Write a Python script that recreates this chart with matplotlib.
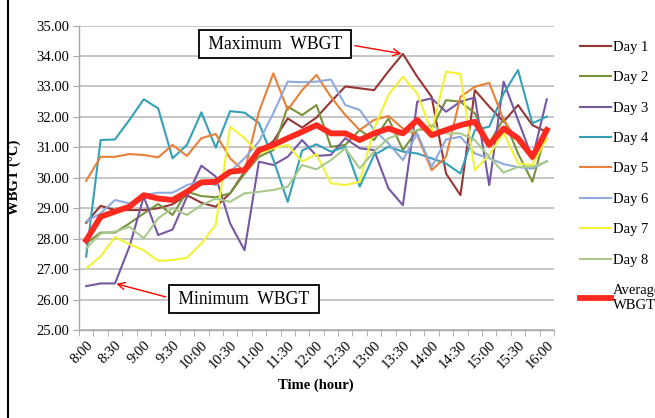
import numpy as np
import matplotlib
matplotlib.use('Agg')
import matplotlib.pyplot as plt
from matplotlib.lines import Line2D

plt.rcParams['font.family'] = ['Liberation Serif', 'DejaVu Serif']

# Time categories (every 15 min)
times = ['8:00', '8:15', '8:30', '8:45', '9:00', '9:15', '9:30', '9:45',
         '10:00', '10:15', '10:30', '10:45', '11:00', '11:15', '11:30', '11:45',
         '12:00', '12:15', '12:30', '12:45', '13:00', '13:15', '13:30', '13:45',
         '14:00', '14:15', '14:30', '14:45', '15:00', '15:15', '15:30', '15:45', '16:00']

# WBGT readings per day
day1 = [28.52, 29.08, 28.94, 28.94, 28.94, 29.00, 29.13, 29.43, 29.18, 29.05, 29.49, 30.20, 30.86,
        31.20, 31.95, 31.65, 31.98, 32.50, 33.00, 32.94, 32.88, 33.50, 34.07, 33.32, 32.66, 30.14,
        29.43, 32.88, 32.34, 31.84, 32.39, 31.73, 31.50]
day2 = [27.84, 28.20, 28.20, 28.50, 28.83, 29.14, 28.78, 29.54, 29.40, 29.36, 29.49, 30.14, 30.69,
        30.91, 32.34, 32.06, 32.39, 31.02, 31.08, 31.57, 31.24, 31.95, 30.91, 31.57, 31.62, 32.55,
        32.50, 32.12, 31.13, 31.95, 30.80, 29.87, 31.60]
day3 = [26.44, 26.53, 26.53, 27.73, 29.38, 28.12, 28.30, 29.38, 30.40, 30.04, 28.50, 27.62, 30.53,
        30.42, 30.69, 31.24, 30.72, 30.75, 31.30, 30.97, 30.91, 29.65, 29.10, 32.50, 32.61, 32.17,
        32.50, 32.64, 29.76, 33.16, 31.90, 30.64, 32.58]
day4 = [27.41, 31.24, 31.26, 31.90, 32.58, 32.28, 30.64, 31.08, 32.15, 30.99, 32.19, 32.14, 31.80,
        30.60, 29.21, 30.90, 31.10, 30.86, 31.02, 29.71, 30.75, 31.02, 30.86, 30.80, 30.64, 30.47,
        30.14, 31.57, 31.68, 32.77, 33.54, 31.79, 32.01]
day5 = [29.90, 30.69, 30.69, 30.78, 30.75, 30.67, 31.08, 30.72, 31.30, 31.44, 30.64, 30.20, 32.17,
        33.43, 32.23, 32.88, 33.38, 32.66, 32.06, 31.57, 31.90, 32.03, 31.62, 31.40, 30.25, 30.69,
        32.66, 32.99, 33.12, 31.90, 31.20, 30.60, 31.30]
day6 = [28.56, 28.83, 29.27, 29.16, 29.43, 29.51, 29.51, 29.76, 29.90, 29.76, 30.20, 30.64, 31.19,
        32.12, 33.16, 33.14, 33.16, 33.23, 32.39, 32.23, 31.57, 31.13, 30.58, 31.46, 30.36, 31.26,
        31.35, 30.80, 30.64, 30.45, 30.35, 30.30, 30.55]
day7 = [27.02, 27.42, 28.05, 27.82, 27.62, 27.27, 27.30, 27.37, 27.84, 28.45, 31.68, 31.30, 30.80,
        30.97, 31.08, 30.53, 30.78, 29.82, 29.76, 29.87, 31.62, 32.72, 33.32, 32.77, 31.51, 33.49,
        33.41, 30.25, 30.75, 31.48, 30.47, 30.42, 31.30]
day8 = [27.68, 28.17, 28.23, 28.39, 28.01, 28.67, 29.00, 28.78, 29.10, 29.32, 29.21, 29.49, 29.54,
        29.60, 29.71, 30.42, 30.28, 30.58, 30.97, 30.31, 30.86, 31.30, 31.46, 31.57, 31.73, 31.46,
        31.46, 31.24, 30.69, 30.17, 30.36, 30.36, 30.53]
avg = [27.95, 28.72, 28.89, 29.05, 29.43, 29.32, 29.27, 29.54, 29.85, 29.87, 30.20, 30.25, 30.91,
       31.08, 31.30, 31.51, 31.73, 31.46, 31.46, 31.24, 31.46, 31.62, 31.46, 31.90, 31.40, 31.57,
       31.73, 31.84, 31.08, 31.62, 31.30, 30.69, 31.57]

days = [day1, day2, day3, day4, day5, day6, day7, day8]
day_labels = ['Day 1', 'Day 2', 'Day 3', 'Day 4', 'Day 5', 'Day 6', 'Day 7', 'Day 8']
day_colors = ['#963634', '#77933C', '#7658A2', '#35A0B8', '#E8803A', '#8FAADC', '#F2F236', '#A8C98B']

fig = plt.figure(figsize=(6.55, 4.18), dpi=100)
ax = fig.add_axes([79 / 655, 1 - 330 / 418, 475 / 655, 304.4 / 418])

x = np.arange(len(times))
for vals, lab, col in zip(days, day_labels, day_colors):
    ax.plot(x, vals, color=col, lw=1.5, label=lab)
ax.plot(x, avg, color='#FF2A1F', lw=4.2, label='Average\nWBGT', zorder=5)

# axes styling (Excel-like)
ax.set_xlim(-0.5, len(times) - 0.5)
ax.set_ylim(25, 35)
ax.set_yticks(np.arange(25, 35.5, 1))
ax.set_yticklabels(['%.2f' % v for v in np.arange(25, 35.5, 1)], fontsize=10.5)
ax.grid(axis='y', color='#BEBEBE', lw=1.2)
ax.set_axisbelow(True)
for s in ['top', 'right']:
    ax.spines[s].set_visible(False)
for s in ['left', 'bottom']:
    ax.spines[s].set_color('#A6A6A6')
    ax.spines[s].set_linewidth(1.0)

ax.set_xticks(x[::2])
ax.set_xticklabels(times[::2], rotation=45, ha='right', rotation_mode='anchor', fontsize=10.5)
ax.set_xticks(np.arange(-0.5, len(times), 1), minor=True)
ax.tick_params(axis='x', which='major', length=0, pad=6)
ax.tick_params(axis='x', which='minor', length=4, color='#A6A6A6')
ax.tick_params(axis='y', length=4, color='#A6A6A6', pad=3)

fig.text(14 / 655, 1 - 177 / 418, 'WBGT (°C)', rotation=90, ha='center', va='center',
         fontsize=10.5, fontweight='bold')
fig.text(316 / 655, 1 - 385 / 418, 'Time (hour)', ha='center', va='center',
         fontsize=10.5, fontweight='bold')

# annotations
box = dict(boxstyle='square,pad=0.3', fc='white', ec='black', lw=1.3)
ax.annotate(' Maximum  WBGT ', xy=(22, day1[22]), xytext=(13.12, 34.39),
            fontsize=12.7, ha='center', va='center', bbox=box,
            arrowprops=dict(arrowstyle='->', color='red', lw=1, relpos=(1, 0.5), shrinkB=1))
ax.annotate(' Minimum  WBGT ', xy=(2, day3[2]), xytext=(10.97, 26.01),
            fontsize=12.7, ha='center', va='center', bbox=box,
            arrowprops=dict(arrowstyle='->', color='red', lw=1, relpos=(0, 0.5), shrinkB=1))

leg = ax.legend(loc='upper left', bbox_to_anchor=(580 / 655, 1 - 40.6 / 418),
                bbox_transform=fig.transFigure, frameon=False, fontsize=10.5,
                borderpad=0, borderaxespad=0, handlelength=2.1, handletextpad=0.15,
                labelspacing=1.18)

# outer frame line on the left
fig.add_artist(Line2D([8 / 655, 8 / 655], [0, 1], color='black', lw=1.5))

fig.savefig('out.png', dpi=100)
